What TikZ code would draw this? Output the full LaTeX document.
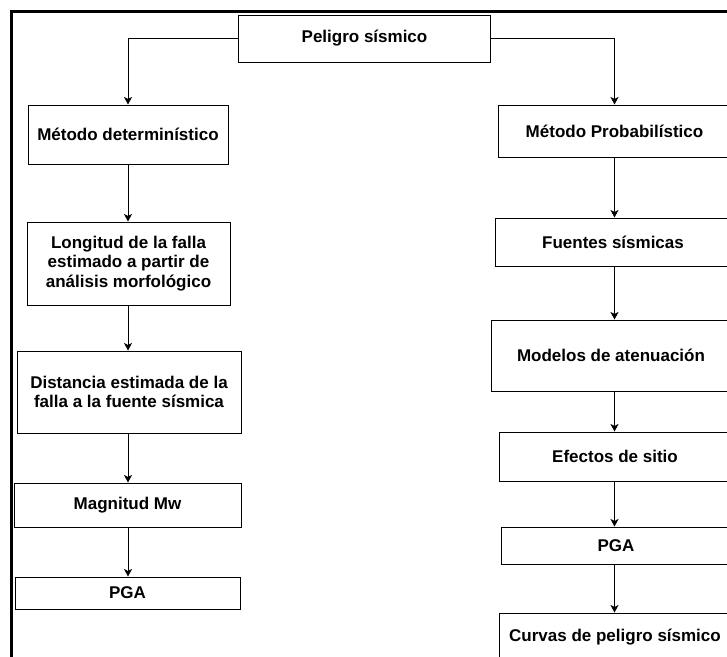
\documentclass[tikz,border=0pt]{standalone}
\usepackage{fontspec}
\setmainfont{Liberation Sans}
\usetikzlibrary{arrows.meta}
\begin{document}
\begin{tikzpicture}[x=1pt,y=-1pt,
  box/.style={draw=black, line width=1pt, inner sep=0pt, align=center,
    font=\fontsize{17}{19.5}\selectfont\bfseries},
  arr/.style={line width=0.9pt, -{Stealth[length=7.5pt,width=8pt,inset=2pt]}},
  frame/.style={line width=3pt}]
\useasboundingbox (0,0) rectangle (727,656);
\clip (0,0) rectangle (727,656);
\fill[white] (0,0) rectangle (727,656);
\coordinate (fbl) at (11.5,662);
\coordinate (ftl) at (11.5,11.5);
\coordinate (ftr) at (735,11.5);
\draw[frame] (fbl) -- (ftl) -- (ftr);
% top
\node[box, minimum width=252pt, minimum height=47pt] (pel) at (364.5,38.5) {Peligro sísmico};
% left column
\node[box, minimum width=200pt, minimum height=59pt] (det) at (128,134.5) {Método determinístico};
\node[box, minimum width=203pt, minimum height=83pt] (lon) at (128.5,263.5) {Longitud de la falla\\estimado a partir de\\análisis morfológico};
\node[box, minimum width=224pt, minimum height=82pt] (dis) at (129,392) {Distancia estimada de la\\falla a la fuente sísmica};
\node[box, minimum width=227pt, minimum height=44pt] (mag) at (127.5,505) {Magnitud Mw};
\node[box, minimum width=225pt, minimum height=32pt] (pgal) at (127.5,593) {PGA};
% right column
\node[box, minimum width=233pt, minimum height=52pt] (prob) at (614.5,131) {Método Probabilístico};
\node[box, minimum width=236pt, minimum height=48pt] (fue) at (613,242) {Fuentes sísmicas};
\node[box, minimum width=240pt, minimum height=71pt] (mod) at (611,355.5) {Modelos de atenuación};
\node[box, minimum width=232pt, minimum height=49pt] (efe) at (615,456.5) {Efectos de sitio};
\node[box, minimum width=230pt, minimum height=37pt] (pgar) at (616,545.5) {PGA};
\node[box, minimum width=232pt, minimum height=48pt] (cur) at (615,637) {Curvas de peligro sísmico};
% connectors
\draw[arr] (pel.west) -| (det.north);
\draw[arr] (pel.east) -| (prob.north);
\draw[arr] (det.south) -- (det.south |- lon.north);
\draw[arr] (det.south |- lon.south) -- (det.south |- dis.north);
\draw[arr] (det.south |- dis.south) -- (det.south |- mag.north);
\draw[arr] (det.south |- mag.south) -- (det.south |- pgal.north);
\draw[arr] (prob.south) -- (prob.south |- fue.north);
\draw[arr] (prob.south |- fue.south) -- (prob.south |- mod.north);
\draw[arr] (prob.south |- mod.south) -- (prob.south |- efe.north);
\draw[arr] (prob.south |- efe.south) -- (prob.south |- pgar.north);
\draw[arr] (prob.south |- pgar.south) -- (prob.south |- cur.north);
\end{tikzpicture}
\end{document}
